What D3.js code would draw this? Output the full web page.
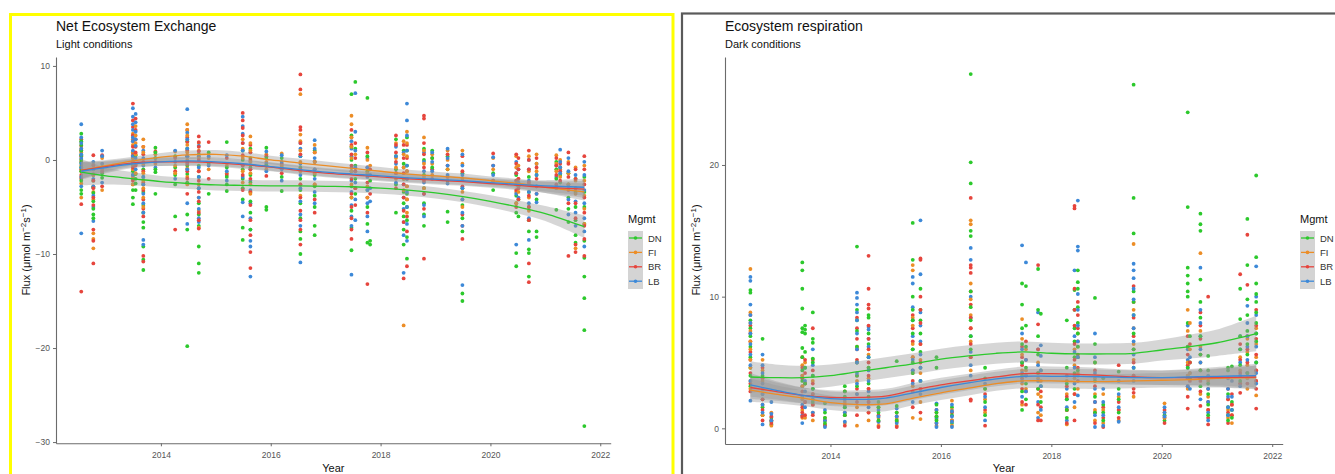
<!DOCTYPE html>
<html><head><meta charset="utf-8">
<script src="https://cdn.jsdelivr.net/npm/d3@7"></script>
<style>
html,body{margin:0;padding:0;background:#fff;}
svg{display:block;font-family:"Liberation Sans",Arial,sans-serif;}
</style></head>
<body>
<svg id="c" width="1335" height="474"></svg>
<script>
// ---------------- DATA ----------------
const campaigns = [2012.55,2012.77,2012.93,2013.49,2013.54,2013.68,2013.90,2014.26,2014.48,2014.69,2014.87,2015.20,2015.49,2015.63,2015.92,2016.20,2016.54,2016.80,2017.47,2017.54,2017.76,2017.81,2018.28,2018.42,2018.48,2018.79,2018.94,2019.22,2019.49,2020.05,2020.47,2020.51,2020.70,2020.84,2021.20,2021.27,2021.42,2021.55,2021.71];
const mgmt = ["DN","FI","BR","LB"];
const colors = ["#2cc92c","#ec8d26","#e6453d","#3d89d8"];

// Net Ecosystem Exchange (light) – values per campaign
const neeDN = [
[2.8,2.0,1.6,1.0,0.5,0.0,-0.3,-0.8,-1.2,-2.2,-3.2,-3.6],[-1.0,-1.6,-2.2,-2.9,-3.5,-4.4,-5.2,-5.8,-6.2],[-0.8,-1.4,-1.9],
[0.8,0.2,-0.5,-1.2,-1.6,-2.0,-2.6,-3.2,-4.0,-4.7],[0.5,-0.4,-1.5,-2.0,-2.5,-3.2],[-1.0,-1.8,-2.6,-3.4,-4.8,-5.6,-6.6,-7.2,-9.2,-10.6,-11.7],
[1.3,0.8,0.2,-1.0,-1.3,-3.6],[0.4,-0.8,-1.6,-2.6,-6.0],[2.0,1.2,0.4,-0.6,-1.5,-2.4,-5.8,-7.4,-19.8],
[0.6,-0.6,-1.8,-3.0,-4.6,-5.8,-7.0,-9.2,-11.0,-12.0],[0.8,-0.4,-3.6],[1.9,-0.8,-1.8,-2.6,-3.3],[1.0,0.0,-1.0,-2.0,-3.0,-4.2,-7.2,-8.5],
[1.2,0.2,-0.8,-1.6,-2.4,-3.4,-4.4,-5.6,-7.4],[1.3,0.2,-0.6,-5.0,-5.3],[0.2,-0.8,-1.8,-3.3],[0.4,-0.8,-2.0,-3.2,-4.6,-6.2,-7.6,-8.4,-10.0],
[1.0,-0.2,-1.6,-2.8,-3.8,-5.0,-7.0,-8.0],[7.0,2.6,1.4,0.0,-1.2,-2.8,-4.0,-5.4,-7.2,-9.6],[8.3,1.2,-0.6,-2.0,-3.6],
[6.6,0.4,-1.2,-3.2,-5.0,-6.8,-8.8],[-2.2,-8.6,-9.0],[2.2,0.4,-1.0,-2.6,-5.6],[1.0,-0.4,-2.0,-3.4,-4.6,-6.0,-7.4,-9.0],
[2.4,1.0,-0.6,-2.0,-3.6,-5.0,-6.4,-8.2,-10.5],[1.2,0.0,-1.6,-3.0,-4.6,-5.8,-7.0],[1.0,0.2,-0.8],[0.4,-1.0,-2.2,-5.5,-6.6],
[-1.4,-3.0,-4.8,-6.2,-7.6,-14.2,-15.0],[-1.4,-2.2,-3.2],[-1.6,-2.6,-3.8,-4.6,-5.6,-9.9,-11.3],[-2.8,-4.2,-6.0],
[-1.8,-3.4,-5.0,-6.4,-7.6,-9.5,-9.9,-12.4],[-1.6,-2.8,-4.2,-7.6,-8.2],[-0.2,-1.0,-2.0,-5.3],[-0.8,-1.6,-2.4],
[-1.4,-2.6,-4.0,-5.2,-6.6],[-2.0,-3.4,-5.0,-6.4,-8.0,-8.8],[-1.8,-3.4,-5.0,-6.8,-8.6,-10.4,-12.4,-14.7,-18.1,-28.3]];
const neeFI = [
[1.9,1.2,0.8,0.1,-0.6,-1.2,-1.8,-2.5,-4.0],[-0.5,-1.6,-2.8,-3.4,-4.2,-7.8,-8.4,-9.4],[0.2,-1.0,-3.2],
[2.8,2.2,1.6,0.8,0.2,-0.4,-1.0,-1.8,-2.6],[3.6,2.6,1.8,0.6,-0.4,-1.4],[2.2,1.4,0.8,-0.4,-1.4,-2.2,-3.0,-4.0,-5.0],[0.6,-0.4],
[0.9,-0.6,-1.4],[3.8,3.2,2.6,1.6,0.8,0.0,-0.9,-1.8,-2.6],[1.8,1.0,0.2,-1.2,-2.6,-4.0,-5.4,-7.2],[0.2,-1.0],[-0.6,-1.4],
[2.2,1.2,0.2,-1.2,-2.4],[2.5,1.8,1.0,-0.2,-1.4,-2.6,-3.6],[0.6,-0.2,-1.0],[0.7,-0.6],[7.0,2.7,2.0,1.0,-0.2,-1.2,-2.6,-3.8],
[1.6,0.8,-0.2,-1.4,-2.6],[4.7,3.8,2.4,1.4,0.2,-1.2,-2.6,-4.0],[0.6,-1.2,-3.0],[1.3,0.0,-1.4,-2.8,-4.0],[-0.6],
[1.8,0.2,-0.8,-2.0],[2.0,0.6,-0.8,-2.0,-3.2,-17.6],[3.0,1.8,0.4,-1.2,-2.8,-4.2,-5.6],[2.4,1.0,-0.4,-1.8,-3.0],[0.6,-0.4,-1.6],
[1.0,0.0,-1.0],[1.0,-0.4,-2.0,-3.4,-5.0],[0.2,-1.0],[0.4,-0.8,-2.2,-3.4,-4.6],[-0.6,-2.0,-3.4],[0.4,-1.2,-2.6,-4.0,-5.4],
[0.6,-0.4,-1.2],[0.5,-0.4,-1.2],[0.0,-1.0,-1.8],[-0.2,-1.4,-2.6],[-0.8,-2.2,-3.6,-9.4],[-0.6,-2.2,-3.8,-5.2,-6.8]];
const neeBR = [
[2.2,1.5,1.0,0.4,-0.2,-1.0,-1.6,-2.0,-4.7,-14.0],[0.5,-0.6,-1.5,-2.2,-3.0,-4.0,-4.8,-7.4,-8.6,-11.0],[0.5,-1.2,-2.8],
[6.0,4.2,3.5,2.6,2.0,1.4,0.5,-0.2,-0.8,-2.2],[4.4,3.2,2.2,1.4,0.8,-0.6],[1.4,0.6,-0.2,-1.2,-2.4,-3.2,-4.2,-5.2,-6.0,-10.2,-10.8],
[0.9,-0.2],[0.2,-1.2,-7.4],[3.2,2.4,1.9,1.0,0.4,-0.4,-1.2,-2.0,-3.6],[2.5,1.9,1.4,0.9,0.0,-1.2,-2.2,-3.4,-4.4,-5.6,-6.4,-7.3],
[1.9,-2.0],[0.2,-1.6],[5.0,4.2,3.4,2.6,1.8,0.5,-0.6,-1.6,-3.2],[1.6,0.8,0.0,-1.0,-2.0,-3.4,-4.8,-6.4,-8.0,-9.8,-11.5],
[0.4,-0.6,-1.7],[-0.4,-1.4],[9.1,7.5,3.5,3.2,1.8,0.6,-1.0,-2.6,-4.0,-5.4,-6.4,-7.4,-9.0],[0.8,-0.2,-1.0,-2.6,-4.2,-5.6],
[3.2,2.4,1.6,0.6,-0.6,-2.0,-3.6,-5.0,-6.2,-7.4,-8.4],[1.8,0.2,-1.2,-3.0,-4.8],[0.8,-0.8,-2.4,-4.0,-5.6,-13.2],[-1.0,-3.6],
[2.6,1.6,0.8,-0.2,-1.4,-3.0],[1.6,0.2,-1.4,-2.6,-4.0,-5.4,-6.6,-12.6],[1.6,0.2,-1.2,-2.8,-4.2,-6.0,-7.6,-11.3],
[4.7,4.4,1.8,0.6,-0.8,-2.2,-3.6,-5.2,-10.5],[0.2,-1.0,-2.0],[0.6,-0.6,-1.8],[0.4,-1.2,-2.8,-4.2,-5.8,-7.0,-8.4],[0.7,-0.6,-2.2],
[0.6,-0.4,-1.4,-2.2,-3.2,-5.0],[0.2,-1.0,-2.0,-3.0,-4.2],[1.0,0.0,-1.0,-2.4,-3.8,-5.0,-6.4,-11.0,-13.0],[0.2,-0.8,-2.0,-3.6],
[0.2,-0.6,-1.6,-2.6],[-0.4,-1.2,-2.2],[0.8,-0.4,-1.8,-3.2,-4.6,-10.2],[-1.0,-2.0,-3.0,-4.6,-6.2,-9.0,-9.8],
[0.4,-1.0,-2.6,-4.0,-5.6,-7.0,-8.4,-10.2]];
const neeLB = [
[3.8,2.4,1.8,1.2,0.6,0.2,-0.4,-0.8,-1.8,-2.8,-7.8],[-0.2,-1.0,-2.0,-2.8,-3.8,-5.0,-6.5],[1.0,0.4,-0.4,-2.4],
[5.5,4.6,3.8,3.2,2.4,2.0,1.0,0.4,-0.2,-1.6],[4.9,4.0,3.0,2.2,1.5,0.2,-1.0],[1.0,0.2,-0.6,-1.8,-2.6,-3.6,-4.6,-5.6,-8.5,-9.0],
[0.2,-0.8],[1.0,-0.2,-2.0],[5.4,2.9,2.2,1.2,0.4,-0.2,-1.0,-4.6,-6.8],[1.5,0.4,-0.8,-1.8,-3.0,-4.0,-5.2,-6.2,-6.6],[0.4,-0.6],
[0.5,-1.2,-2.2],[4.6,3.6,2.8,1.8,1.0,-0.6,-1.8,-4.5,-6.0],[0.8,-0.2,-1.0,-2.2,-3.2,-4.6,-6.2,-7.4,-8.6,-9.2,-12.4],
[0.9,-0.4,-1.2],[0.5,-0.2,-1.0,-2.2],[1.8,1.2,0.4,-0.4,-1.6,-3.0,-4.4,-5.8,-7.0,-10.9],[2.1,1.2,0.2,-1.0,-2.0,-3.4,-4.6],
[2.0,1.2,0.4,-0.8,-2.2,-3.4,-4.8,-6.0,-7.0,-12.2],[7.1,3.0,1.0,-0.8,-2.4,-4.2,-6.4],[0.2,-0.8,-1.8,-3.2,-4.6,-6.0,-7.6],
[-1.6,-3.0,-4.4],[1.4,0.4,-0.4,-1.4,-2.4],[0.8,-0.8,-2.6,-4.0,-5.2,-6.6,-8.0,-12.0],[6.0,4.2,2.6,1.0,-0.6,-2.0,-3.4,-5.0,-6.8,-8.6],
[0.8,-0.2,-1.2,-2.4,-3.6,-4.8,-6.0],[0.8,-0.2,-1.2],[1.2,0.2,-0.6,-1.6,-2.5],[0.6,-0.6,-1.6,-3.0,-4.2,-5.6,-7.0,-13.3],
[0.3,-0.6,-1.6],[-0.2,-1.4,-2.6,-3.6,-9.0],[-1.0,-2.4,-4.0],[0.0,-1.0,-2.2,-3.4,-4.6,-6.2,-8.5],[-0.4,-1.6,-2.8,-3.6,-4.5],
[-0.6,-1.8,-3.0],[1.1,-0.2,-0.8,-1.4],[0.2,-1.2,-2.8,-4.2,-5.8],[-1.6,-3.0,-4.4,-5.6,-7.0],[-0.2,-1.6,-3.2,-4.6,-6.2,-7.6,-9.2]];

// Ecosystem respiration (dark) – values per campaign
const recoDN = [
[10.5,10.3,8.2,7.6,7.0,6.2,5.4,4.6,4.0,3.2],[6.8,4.0,3.0,2.2,1.6,1.0],[0.8,0.5,0.3],[12.6,12.0,10.6,9.1,7.6,7.3,6.1,5.4,4.4,3.6],
[7.8,7.5,7.2,5.8,4.6,3.4],[8.8,6.8,6.5,5.3,5.0,4.0,3.0,2.0],[1.9,1.2,0.8,0.4],[3.2,2.8,2.4,1.6,1.0],[13.8,9.0,8.2,7.4,6.2,5.0,4.0,3.2],
[8.6,8.4,7.2,6.4,5.4,4.6,3.4,2.4],[2.0,1.6,1.2,0.6],[5.1,1.7,1.2,0.6],[15.6,12.8,10.0,9.0,8.2,7.2,6.0,5.0,4.2],
[10.6,9.0,8.2,7.2,5.8,4.6,3.6],[5.4,4.6,1.8,1.2,0.9,0.6],[1.6,1.0,0.4],[26.9,20.2,18.6,15.0,14.6,10.4,9.2,8.2,7.0,6.0],
[4.6,3.8,3.0,2.0,1.0],[11.0,9.4,7.6,6.4,5.0,4.0,2.8,1.4],[10.8,7.8,6.2,4.6,3.4,2.2],[12.1,9.0,7.0,5.6,4.2,3.0],[8.7,4.4,3.2,2.0],
[8.2,4.6,3.4,2.2,1.4,0.8],[10.5,9.0,7.6,6.6,5.4,4.2,3.0],[12.0,11.1,10.6,9.2,8.0,7.2,6.2,5.4,4.4],[9.9,6.4,5.0,3.6,2.4,1.2],
[3.8,1.8,1.2,0.6],[4.3,3.0,2.2,1.2],[26.1,17.5,14.8,10.4,9.6,8.6,7.2,6.0,4.6],[1.0,0.6],
[24.0,16.8,12.2,11.6,11.0,10.4,10.0,8.0,6.2,4.6],[7.0,5.0,3.8],[16.3,15.5,15.0,11.3,9.6,8.4,7.0,5.6,4.4,3.2],
[5.5,4.4,3.4,2.6,1.8,1.0],[4.6,4.4,2.6,1.6,1.0,0.6],[4.7,2.0,1.4,0.8],[10.6,8.3,7.0,6.0,4.8,3.6],[15.9,12.4,9.8,8.6,7.4,6.4,5.6,4.2],
[19.2,13.0,11.0,10.2,9.6,8.8,8.0,7.2,6.6,5.0]];
const recoFI = [
[12.1,8.8,8.0,7.4,6.6,6.0,5.2,4.6,3.6,3.0],[5.2,4.4,3.6,2.6,1.8,1.0],[1.2,0.6,0.2],[4.8,4.0,3.2,2.2,1.4,0.8],[5.0,3.4,2.0,0.8],
[3.6,2.6,1.8,1.2,0.6],[0.8,0.3],[2.0,1.2,0.4],[6.2,5.0,3.6,2.6,1.6,0.2],[5.6,4.6,3.8,3.0,2.0,1.2,0.6],[1.6,0.8,0.2],[1.2,0.7,0.2],
[12.4,12.0,8.4,7.8,6.4,5.4,4.2,3.2,0.8],[6.4,5.2,4.2,3.0,2.0,0.7],[1.2,0.7,0.2],[2.1,1.4,0.6,0.2],[15.8,15.5,11.0,9.8,8.6,7.6,6.6,5.4,4.4],
[3.0,2.2,1.2],[8.3,6.8,5.6,4.4,3.4,1.8],[6.0,4.4,3.0],[5.0,3.8,2.6,1.2],[3.6,2.4,1.0],[3.6,2.6,1.4,0.3],[6.0,4.8,3.8,2.6,1.6],
[7.2,6.2,5.4,4.2,3.0],[5.0,3.8,2.6,1.4,0.6],[2.6,1.4,0.4],[2.4,1.4,0.6],[14.0,9.0,7.6,6.4,5.2,4.0,2.4],[1.9,1.2,0.8],
[9.0,7.4,6.2,5.0,4.0,3.0],[8.0,6.0,4.2],[13.3,7.4,6.2,5.0,3.8,2.6],[3.6,2.4,1.4],[2.2,1.4,0.8],[1.8,1.0,0.4],[5.4,4.4,3.4],
[6.8,5.8,4.8,3.8,3.0],[7.6,6.4,5.4,4.4,3.6,2.5]];
const recoBR = [
[8.6,7.8,7.2,6.6,5.8,5.2,4.2,3.4,2.8],[4.6,3.8,3.0,2.2,1.4,0.6],[0.9,0.6,0.4],[5.4,4.6,3.8,2.8,1.6,1.2,0.9],[5.2,4.2,3.4,2.0,1.0],
[7.6,5.2,4.4,3.4,2.6,1.8,1.0],[0.6,0.2],[2.8,1.8,1.0,0.2],[8.4,7.6,6.8,6.0,5.2,4.0,3.0,2.0,1.0],
[13.1,10.6,9.4,9.1,7.8,6.8,6.0,5.0,4.0,3.0,2.0,1.2],[1.0,0.5,0.1],[0.9,0.5,0.1],[8.6,7.6,6.6,5.4,4.4,3.6,2.8,1.6],
[12.9,12.8,10.0,9.0,8.0,6.4,5.0,3.0,1.2],[1.4,0.9,0.4],[1.2,0.6],[17.5,12.4,12.2,11.8,10.4,9.4,8.4,7.6,6.4,5.4,2.2,2.1],
[2.6,1.4,0.2],[6.2,5.4,4.8,3.8,3.0,2.0],[6.6,5.2,4.0,2.8,1.8],[12.4,7.9,6.0,4.2,3.0,1.8,0.6],[2.8,1.6,0.6],[4.0,3.2,2.4,1.4,0.4],
[16.9,16.7,10.6,9.0,7.8,6.4,5.2,4.0,2.6,0.6],[9.6,8.6,7.6,6.6,5.6,4.6,3.6],[4.4,3.2,2.0,1.2,0.4],[1.6,0.8,0.1],[4.8,2.0,1.4,0.8],
[10.8,9.6,8.4,7.0,6.0,5.0,4.0,3.0,2.7],[1.4,0.8,0.4],[7.0,5.6,4.8,4.0,3.2,2.4,1.5],[6.4,5.0,3.6],[8.8,7.8,6.8,5.6,4.4,3.6,2.8,1.7],
[10.0,3.0,2.0,1.4,0.8,0.3],[3.0,2.2,1.2,0.4],[2.6,1.8,1.0],[11.7,6.4,5.2,4.2,3.4,2.7],[14.7,10.9,7.0,6.0,5.0,4.2,3.4],
[9.0,7.8,6.8,5.6,4.4,3.6,3.0,1.5]];
const recoLB = [
[11.5,11.2,9.4,8.6,8.0,7.2,6.4,5.6,4.8,3.6,2.1],[5.6,4.8,4.2,3.4,2.6,1.8,1.2,0.3],[2.0,1.1,0.6],[4.0,3.2,2.4,1.8,1.0,0.4],
[4.6,3.6,2.8,1.6],[6.0,4.8,4.0,3.0,2.2,1.2],[1.4,0.6,0.1],[2.2,1.6,1.2,0.5],[10.3,9.9,9.4,8.8,8.2,7.2,6.0,5.0,4.2,3.4,2.6],
[7.7,7.5,6.8,6.2,5.4,4.4,3.6,2.8,1.6],[1.4,0.9,0.5],[1.5,0.9,0.4],[11.5,11.0,9.2,8.2,7.0,6.0,5.2,4.4,3.4,2.0],
[15.8,11.7,8.8,7.8,6.6,5.6,4.6,3.6,2.6],[1.9,1.4,0.8,0.4,0.1],[1.8,1.3,0.9,0.5,0.1],[13.7,12.8,10.0,8.4,7.0,5.8,4.8,4.0],
[3.4,2.4,1.6,0.6],[13.9,7.2,6.0,5.0,4.2,3.6,2.4],[12.6,5.2,4.0,2.8],[8.8,6.0,4.8,3.6,2.0,0.8],[6.3,5.5,4.4,3.2,1.4],
[3.0,2.2,1.6,0.6],[12.0,7.0,5.8,4.6,3.4,2.0],[17.3,13.8,13.5,10.2,9.0,7.8,6.6,5.4,4.0,2.5],[7.2,5.4,4.2,3.0,2.0,1.0,0.1],
[3.0,2.0,1.0,0.2],[3.6,2.6,1.6,0.5],[12.5,12.0,11.4,10.6,9.8,8.6,7.6,6.6,5.6,4.6,3.6],[1.6,1.2,0.9],[7.8,6.0,5.2,4.6,3.8,3.2],
[5.4,4.2,3.0],[12.2,9.0,8.0,7.0,6.0,5.0,3.8,2.2],[4.0,3.0,2.0,1.2,0.6],[3.8,3.0,2.4,1.6,1.0],[3.6,2.4,1.4],[7.0,6.0,5.0,4.0,3.2],
[9.3,8.0,7.0,6.2,5.2,4.2],[12.3,10.0,8.6,7.2,6.2,5.0,4.2,3.4]];

// smoothed fits (loess) with confidence half-widths
const fitYears = [2012.55,2013.0,2013.5,2014.0,2014.5,2015.0,2015.5,2016.0,2016.5,2017.0,2017.5,2018.0,2018.5,2019.0,2019.5,2020.0,2020.5,2021.0,2021.71];
const neeFitDN = [-1.3,-1.7,-2.0,-2.3,-2.5,-2.65,-2.7,-2.75,-2.75,-2.8,-2.85,-3.0,-3.2,-3.5,-3.9,-4.4,-5.0,-5.7,-7.1];
const neeFitFI = [-1.1,-0.6,-0.1,0.3,0.55,0.6,0.4,0.0,-0.3,-0.6,-0.9,-1.2,-1.5,-1.7,-1.9,-2.2,-2.5,-2.9,-3.4];
const neeFitBR = [-1.1,-0.7,-0.3,-0.2,-0.2,-0.3,-0.5,-0.75,-1.1,-1.4,-1.6,-1.8,-2.0,-2.15,-2.3,-2.5,-2.7,-2.9,-3.1];
const neeFitLB = [-1.2,-0.8,-0.4,-0.2,-0.1,-0.2,-0.4,-0.7,-1.0,-1.3,-1.5,-1.7,-1.9,-2.05,-2.2,-2.4,-2.6,-2.75,-2.9];
const neeCiDN = [1.4,0.9,0.7,0.6,0.6,0.6,0.6,0.6,0.6,0.6,0.6,0.6,0.6,0.6,0.6,0.65,0.7,0.8,1.2];
const neeCi = [0.9,0.6,0.45,0.45,0.45,0.45,0.45,0.45,0.45,0.45,0.45,0.45,0.45,0.45,0.45,0.45,0.5,0.6,0.9];
const recoFitDN = [3.9,3.85,3.85,4.0,4.3,4.6,4.9,5.25,5.5,5.7,5.8,5.7,5.65,5.65,5.7,5.95,6.2,6.5,7.2];
const recoFitFI = [2.9,2.6,2.3,1.95,1.8,1.85,2.3,2.7,3.05,3.4,3.6,3.6,3.55,3.55,3.6,3.65,3.7,3.8,3.85];
const recoFitBR = [3.1,2.8,2.5,2.35,2.35,2.45,2.9,3.3,3.6,3.9,4.15,4.15,4.1,4.0,3.9,3.85,3.85,3.85,3.9];
const recoFitLB = [3.3,2.9,2.5,2.25,2.2,2.3,2.7,3.1,3.45,3.75,3.95,3.95,3.95,3.9,3.85,3.85,3.9,3.95,4.0];
const recoCiDN = [1.2,1.0,0.9,0.85,0.8,0.8,0.8,0.8,0.8,0.8,0.8,0.8,0.8,0.8,0.8,0.8,0.9,1.0,1.35];
const recoCi = [0.9,0.7,0.6,0.55,0.55,0.55,0.55,0.55,0.55,0.55,0.55,0.55,0.55,0.55,0.55,0.55,0.6,0.7,0.9];

const xTicks = [2014,2016,2018,2020,2022];
const neeTicks = [-30,-20,-10,0,10];
const recoTicks = [0,10,20];

// ---------------- DRAW ----------------
const svg = d3.select("#c");
svg.append("rect").attr("width",1335).attr("height",474).attr("fill","#fff");
svg.append("rect").attr("x",10.5).attr("y",14.5).attr("width",662.5).attr("height",470)
  .attr("fill","none").attr("stroke","#ffff00").attr("stroke-width",3);
svg.append("rect").attr("x",682).attr("y",13.5).attr("width",660).attr("height",470)
  .attr("fill","none").attr("stroke","#5a5a5a").attr("stroke-width",2.2);

function drawPanel(cfg){
  const g = svg.append("g");
  const x = d3.scaleLinear().domain([2012.09,2022.19]).range(cfg.xr);
  const y = d3.scaleLinear().domain(cfg.yd).range([cfg.yb,57]);
  g.append("text").attr("x",cfg.xr[0]).attr("y",31).attr("font-size",14).attr("fill","#111").text(cfg.title);
  g.append("text").attr("x",cfg.xr[0]).attr("y",48).attr("font-size",11).attr("fill","#111").text(cfg.sub);
  const pts = [];
  campaigns.forEach((yr,ci)=>{
    const m = d3.max(cfg.series,s=>s[ci].length);
    for(let i=0;i<m;i++) cfg.series.forEach((s,si)=>{ if(s[ci][i]!==undefined) pts.push({x:yr,y:s[ci][i],c:colors[si]}); });
  });
  g.append("g").selectAll("circle").data(pts).join("circle")
    .attr("cx",d=>x(d.x)).attr("cy",d=>y(d.y)).attr("r",1.9).attr("fill",d=>d.c);
  const area = d3.area().x((d,i)=>x(fitYears[i])).y0(d=>y(d[0]-d[1])).y1(d=>y(d[0]+d[1])).curve(d3.curveCatmullRom);
  const line = d3.line().x((d,i)=>x(fitYears[i])).y(d=>y(d)).curve(d3.curveCatmullRom);
  cfg.fits.forEach((f,si)=>{
    const ci = si===0?cfg.ciDN:cfg.ci;
    g.append("path").datum(f.map((v,i)=>[v,ci[i]])).attr("d",area).attr("fill","#999").attr("fill-opacity",0.4);
  });
  cfg.fits.forEach((f,si)=>{
    g.append("path").datum(f).attr("d",line).attr("fill","none").attr("stroke",colors[si]).attr("stroke-width",1.3);
  });
  const ax = g.append("g").attr("transform",`translate(0,${cfg.yb})`)
    .call(d3.axisBottom(x).tickValues(xTicks).tickFormat(d3.format("d")).tickSize(3).tickSizeOuter(0));
  const ay = g.append("g").attr("transform",`translate(${cfg.xr[0]},0)`)
    .call(d3.axisLeft(y).tickValues(cfg.ticks).tickSize(3).tickSizeOuter(0));
  [ax,ay].forEach(a=>{
    a.select(".domain").attr("stroke","#6b6b6b").attr("stroke-width",1.1);
    a.selectAll(".tick line").attr("stroke","#6b6b6b");
    a.selectAll(".tick text").attr("fill","#555").attr("font-size",8.5).attr("font-family","Liberation Sans, Arial, sans-serif");
  });
  ax.selectAll(".tick text").attr("dy","1.05em");
  g.append("text").attr("x",(cfg.xr[0]+cfg.xr[1])/2).attr("y",472).attr("text-anchor","middle")
    .attr("font-size",11).attr("fill","#111").text("Year");
  const yl = g.append("text").attr("transform",`translate(${cfg.ylx},250) rotate(-90)`)
    .attr("text-anchor","middle").attr("font-size",11).attr("fill","#111");
  yl.append("tspan").text("Flux (\u03bcmol m");
  yl.append("tspan").attr("dy",-4).attr("font-size",8).text("\u22122");
  yl.append("tspan").attr("dy",4).text("s");
  yl.append("tspan").attr("dy",-4).attr("font-size",8).text("\u22121");
  yl.append("tspan").attr("dy",4).text(")");
  const lg = g.append("g").attr("transform",`translate(${cfg.lx},0)`);
  lg.append("text").attr("x",0).attr("y",223).attr("font-size",11).attr("fill","#111").text("Mgmt");
  lg.append("rect").attr("x",0).attr("y",231).attr("width",15).attr("height",58).attr("fill","#d4d4d4");
  mgmt.forEach((m,i)=>{
    const ky = 238 + i*14.4;
    lg.append("line").attr("x1",1).attr("x2",14).attr("y1",ky).attr("y2",ky).attr("stroke",colors[i]).attr("stroke-width",1.3);
    lg.append("circle").attr("cx",7.5).attr("cy",ky).attr("r",1.8).attr("fill",colors[i]);
    lg.append("text").attr("x",20).attr("y",ky+3.5).attr("font-size",9.5).attr("fill","#333").text(m);
  });
}

drawPanel({xr:[56,610.7], yd:[-30.13,10.95], yb:443.3, ticks:neeTicks,
  title:"Net Ecosystem Exchange", sub:"Light conditions",
  series:[neeDN,neeFI,neeBR,neeLB], fits:[neeFitDN,neeFitFI,neeFitBR,neeFitLB], ciDN:neeCiDN, ci:neeCi,
  lx:628, ylx:30});
drawPanel({xr:[725,1282.7], yd:[-1.19,28.2], yb:444, ticks:recoTicks,
  title:"Ecosystem respiration", sub:"Dark conditions",
  series:[recoDN,recoFI,recoBR,recoLB], fits:[recoFitDN,recoFitFI,recoFitBR,recoFitLB], ciDN:recoCiDN, ci:recoCi,
  lx:1300, ylx:700});
</script>
</body></html>
